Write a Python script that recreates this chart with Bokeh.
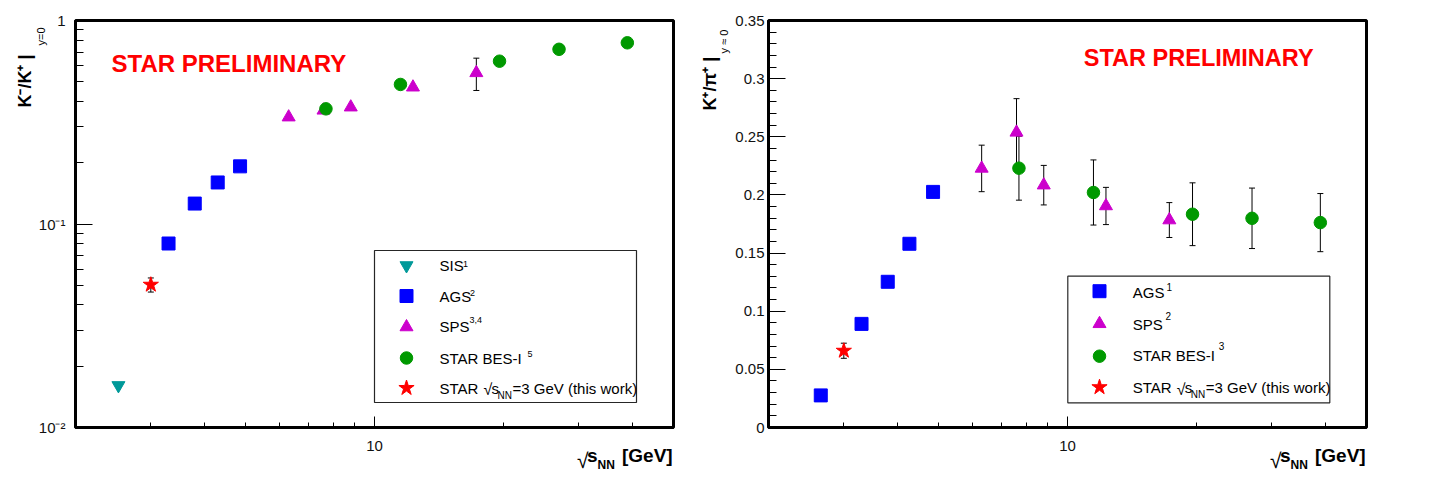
import math
from bokeh.plotting import figure
from bokeh.layouts import row
from bokeh.models import (FixedTicker, Label, BoxAnnotation, Whisker, TeeHead,
                          ColumnDataSource, Range1d)
from bokeh.embed import file_html
from bokeh.resources import INLINE

# ---------------- data: left panel, K-/K+ at y=0 ----------------
sis_kk_x = [2.52]
sis_kk_y = [0.0161]
ags_kk_x = [3.3, 3.8, 4.3, 4.85]
ags_kk_y = [0.0802, 0.126, 0.160, 0.192]
sps_kk_x = [6.3, 7.6, 8.8, 12.3, 17.3]
sps_kk_y = [0.335, 0.362, 0.375, 0.470, 0.553]
sps_kk_e = [0.0, 0.0, 0.0, 0.0, 0.10]
bes_kk_x = [7.7, 11.5, 19.6, 27.0, 39.0]
bes_kk_y = [0.368, 0.485, 0.631, 0.722, 0.777]
star_kk_x = [3.0]
star_kk_y = [0.0503]
star_kk_e = [0.004]

# ---------------- data: right panel, K+/pi+ at y~0 ----------------
ags_kp_x = [2.65, 3.3, 3.8, 4.27, 4.85]
ags_kp_y = [0.0276, 0.0891, 0.1253, 0.158, 0.2026]
sps_kp_x = [6.3, 7.6, 8.8, 12.3, 17.3]
sps_kp_y = [0.2228, 0.2538, 0.2084, 0.1905, 0.1784]
sps_kp_e = [0.020, 0.029, 0.017, 0.016, 0.015]
bes_kp_x = [7.7, 11.5, 19.6, 27.0, 39.0]
bes_kp_y = [0.223, 0.2021, 0.1834, 0.1799, 0.1762]
bes_kp_e = [0.0275, 0.028, 0.027, 0.026, 0.025]
star_kp_x = [3.0]
star_kp_y = [0.066]
star_kp_e = [0.0065]

# ---------------- ticks ----------------
x_major = [10]
x_minor = [3, 4, 5, 6, 7, 8, 9, 20, 30, 40]
x_labels = ["10"]
ylog_major = [0.01, 0.1, 1.0]
ylog_minor = [0.02, 0.03, 0.04, 0.05, 0.06, 0.07, 0.08, 0.09,
              0.2, 0.3, 0.4, 0.5, 0.6, 0.7, 0.8, 0.9]
ylog_labels = ["10\u207b\u00b2", "10\u207b\u00b9", "1"]
ylin_major = [0.0, 0.05, 0.1, 0.15, 0.2, 0.25, 0.3, 0.35]
ylin_minor = [round(0.01 * i, 2) for i in range(36)]
ylin_labels = ["0", "0.05", "0.1", "0.15", "0.2", "0.25", "0.3", "0.35"]

C_SIS = "#009999"
C_AGS = "#0000ff"
C_SPS = "#cc00cc"
C_BES = "#009900"
C_STAR = "#ff0000"
FONT = "Liberation Sans"

# layout: left figure starts at page x 0, right figure at page x LEFT_W
LEFT_BORDER_R = 25
RIGHT_BORDER_L = 768 - (75 + 598 + LEFT_BORDER_R)
LEFT_W = 75 + 598 + LEFT_BORDER_R
# page-pixel -> data converters (layout helpers)
DEC = 598 / math.log10(25)
def L_x(px): return 2 * 10 ** ((px - 75) / DEC)
def L_y(py): return 10 ** (-(py - 20) / 203.5)
def R_x(px): return 2 * 10 ** ((px - 768) / DEC)
def R_y(py): return 0.35 * (427 - py) / 407

MID = 0.35  # distance from baseline to glyph middle, in em


def make_fig(ylog, left_border, right_border):
    kw = dict(frame_width=598, frame_height=407, x_axis_type="log",
              x_range=Range1d(2, 50), min_border_left=left_border,
              min_border_right=right_border, min_border_top=20,
              min_border_bottom=42, output_backend="svg",
              toolbar_location=None)
    if ylog:
        kw["y_axis_type"] = "log"
        kw["y_range"] = Range1d(0.01, 1)
    else:
        kw["y_range"] = Range1d(0, 0.35)
    p = figure(**kw)
    p.grid.visible = False
    p.outline_line_color = "black"
    p.outline_line_width = 3
    p.background_fill_color = "white"
    p.border_fill_color = "white"
    for ax in p.axis:
        ax.axis_line_width = 3
        ax.axis_line_color = "black"
        ax.major_tick_out = 0
        ax.minor_tick_out = 0
        ax.major_tick_line_color = "black"
        ax.minor_tick_line_color = "black"
        ax.major_tick_line_width = 1
        ax.minor_tick_line_width = 1
        ax.major_label_text_font = FONT
        ax.major_label_text_font_size = "15px"
        ax.major_label_text_color = "#111111"
    xa = p.xaxis[0]
    xa.ticker = FixedTicker(ticks=x_major, minor_ticks=x_minor)
    xa.major_label_overrides = dict(zip(x_major, x_labels))
    xa.major_tick_in = 11
    xa.minor_tick_in = 5
    xa.major_label_standoff = 13
    ya = p.yaxis[0]
    if ylog:
        ya.ticker = FixedTicker(ticks=ylog_major, minor_ticks=ylog_minor)
        ya.major_label_overrides = dict(zip(ylog_major, ylog_labels))
        ya.major_label_standoff = 10
    else:
        ya.ticker = FixedTicker(ticks=ylin_major, minor_ticks=ylin_minor)
        ya.major_label_overrides = dict(zip(ylin_major, ylin_labels))
        ya.major_label_standoff = 4
    ya.major_tick_in = 17
    ya.minor_tick_in = 8
    return p


def _px(size):
    return float(size.replace("px", ""))


def lab(p, cx, cy, px, py, text, size, bold=False, color="black", font=FONT):
    # (px, py) = page position of the text's left end on its baseline
    pym = py - MID * _px(size)
    p.add_layout(Label(x=cx(px), y=cy(pym), text=text, text_font=font,
                       text_font_size=size,
                       text_font_style="bold" if bold else "normal",
                       text_color=color, text_align="left",
                       text_baseline="middle"))


def clab(p, ox, px, py, text, size, bold=False, rotated=False):
    # label in canvas pixels (y down from the figure's top), kept in the
    # bottom side panel so that it is drawn outside the frame
    d = MID * _px(size)
    if rotated:
        px, angle = px - d, math.pi / 2
    else:
        py, angle = py - d, 0.0
    p.add_layout(Label(x=px - ox, y=py, x_units="canvas", y_units="canvas",
                       text=text, text_font=FONT, text_font_size=size,
                       text_font_style="bold" if bold else "normal",
                       text_color="black", angle=angle, text_align="left",
                       text_baseline="middle"), "below")


def errbars(p, xs, ys, es):
    sel = [(x, y, e) for x, y, e in zip(xs, ys, es) if e > 0]
    if not sel:
        return
    src = ColumnDataSource(dict(x=[s[0] for s in sel],
                                lo=[s[1] - s[2] for s in sel],
                                hi=[s[1] + s[2] for s in sel]))
    w = Whisker(source=src, base="x", lower="lo", upper="hi",
                line_color="black", line_width=1, level="underlay",
                upper_head=TeeHead(size=6, line_color="black", line_width=1),
                lower_head=TeeHead(size=6, line_color="black", line_width=1))
    p.add_layout(w)


MK = {"sis": ("inverted_triangle", 13, C_SIS),
      "ags": ("square", 13, C_AGS),
      "sps": ("triangle", 13, C_SPS),
      "bes": ("circle", 12.5, C_BES),
      "star": ("star", 16, C_STAR)}


def pts(p, key, xs, ys):
    m, s, c = MK[key]
    p.scatter(x=xs, y=ys, marker=m, size=s, fill_color=c, line_color=c)


def xtitle(p, ox, x0):
    # x0 = page x of the radical sign
    clab(p, ox, x0, 467, "\u221a", "21px")
    clab(p, ox, x0 + 10, 461.7, "s", "19px", bold=True)
    clab(p, ox, x0 + 20.5, 469, "NN", "12px", bold=True)
    clab(p, ox, x0 + 45, 461.7, "[GeV]", "19px", bold=True)


def star_entry(p, cx, cy, x0, base):
    lab(p, cx, cy, x0, base, "STAR", "15px")
    lab(p, cx, cy, x0 + 44, base + 1.5, "\u221a", "16px")
    lab(p, cx, cy, x0 + 52, base, "s", "15px")
    lab(p, cx, cy, x0 + 58, base + 5, "NN", "10px")
    lab(p, cx, cy, x0 + 73, base, "=3 GeV (this work)", "15px")


# ======================= left panel =======================
p1 = make_fig(True, 75, LEFT_BORDER_R)
errbars(p1, sps_kk_x, sps_kk_y, sps_kk_e)
errbars(p1, star_kk_x, star_kk_y, star_kk_e)
pts(p1, "sis", sis_kk_x, sis_kk_y)
pts(p1, "ags", ags_kk_x, ags_kk_y)
pts(p1, "sps", sps_kk_x, sps_kk_y)
pts(p1, "bes", bes_kk_x, bes_kk_y)
pts(p1, "star", star_kk_x, star_kk_y)

lab(p1, L_x, L_y, 111, 71.7, "STAR PRELIMINARY", "24px", bold=True, color="#ff0000")
clab(p1, 0, 31, 107, "K\u207b/K\u207a |", "18px", bold=True, rotated=True)
clab(p1, 0, 44, 45, "y=0", "11px", rotated=True)
xtitle(p1, 0, 576.5)

p1.add_layout(BoxAnnotation(left=L_x(374), right=L_x(636), top=L_y(250),
                            bottom=L_y(402), fill_alpha=0, line_color="black",
                            line_width=1.2, line_alpha=0.85))
leg1_keys = ["sis", "ags", "sps", "bes", "star"]
leg1_rows = [265, 295.5, 326.5, 357.5, 387.5]
for k, r in zip(leg1_keys, leg1_rows):
    m, s, c = MK[k]
    p1.scatter(x=[L_x(406)], y=[L_y(r)], marker=m, size=s, fill_color=c, line_color=c)
lab(p1, L_x, L_y, 439, 270.7, "SIS", "15px")
lab(p1, L_x, L_y, 462.5, 266.5, "1", "9px")
lab(p1, L_x, L_y, 439, 301.7, "AGS", "15px")
lab(p1, L_x, L_y, 469.5, 296, "2", "9px")
lab(p1, L_x, L_y, 439, 331.7, "SPS", "15px")
lab(p1, L_x, L_y, 469, 323, "3,4", "9px")
lab(p1, L_x, L_y, 439, 363.3, "STAR BES-I", "15px")
lab(p1, L_x, L_y, 527, 357, "5", "9px")
star_entry(p1, L_x, L_y, 439, 393.3)

# ======================= right panel =======================
p2 = make_fig(False, RIGHT_BORDER_L, 65)
errbars(p2, sps_kp_x, sps_kp_y, sps_kp_e)
errbars(p2, bes_kp_x, bes_kp_y, bes_kp_e)
errbars(p2, star_kp_x, star_kp_y, star_kp_e)
pts(p2, "ags", ags_kp_x, ags_kp_y)
pts(p2, "sps", sps_kp_x, sps_kp_y)
pts(p2, "bes", bes_kp_x, bes_kp_y)
pts(p2, "star", star_kp_x, star_kp_y)

lab(p2, R_x, R_y, 1083.3, 66, "STAR PRELIMINARY", "23.5px", bold=True, color="#ff0000")
clab(p2, LEFT_W, 715.5, 110, "K\u207a/\u03c0\u207a |", "18px", bold=True, rotated=True)
clab(p2, LEFT_W, 727.5, 53, "y \u2248 0", "11px", rotated=True)
xtitle(p2, LEFT_W, 1269.5)

p2.add_layout(BoxAnnotation(left=R_x(1067.3), right=R_x(1329.3), top=R_y(275.7),
                            bottom=R_y(402.3), fill_alpha=0, line_color="black",
                            line_width=1.2, line_alpha=0.85))
leg2_keys = ["ags", "sps", "bes", "star"]
leg2_rows = [290.7, 323.3, 355.7, 386.7]
for k, r in zip(leg2_keys, leg2_rows):
    m, s, c = MK[k]
    p2.scatter(x=[R_x(1099)], y=[R_y(r)], marker=m, size=s, fill_color=c, line_color=c)
lab(p2, R_x, R_y, 1132.3, 297.3, "AGS", "15px")
lab(p2, R_x, R_y, 1166, 290, "1", "10px")
lab(p2, R_x, R_y, 1132.3, 329.3, "SPS", "15px")
lab(p2, R_x, R_y, 1165, 318.5, "2", "10px")
lab(p2, R_x, R_y, 1132.3, 360.7, "STAR BES-I", "15px")
lab(p2, R_x, R_y, 1218.3, 348.5, "3", "10px")
star_entry(p2, R_x, R_y, 1132.3, 392.7)

layout = row(p1, p2)
open("out.html", "w").write(file_html(layout, INLINE))
